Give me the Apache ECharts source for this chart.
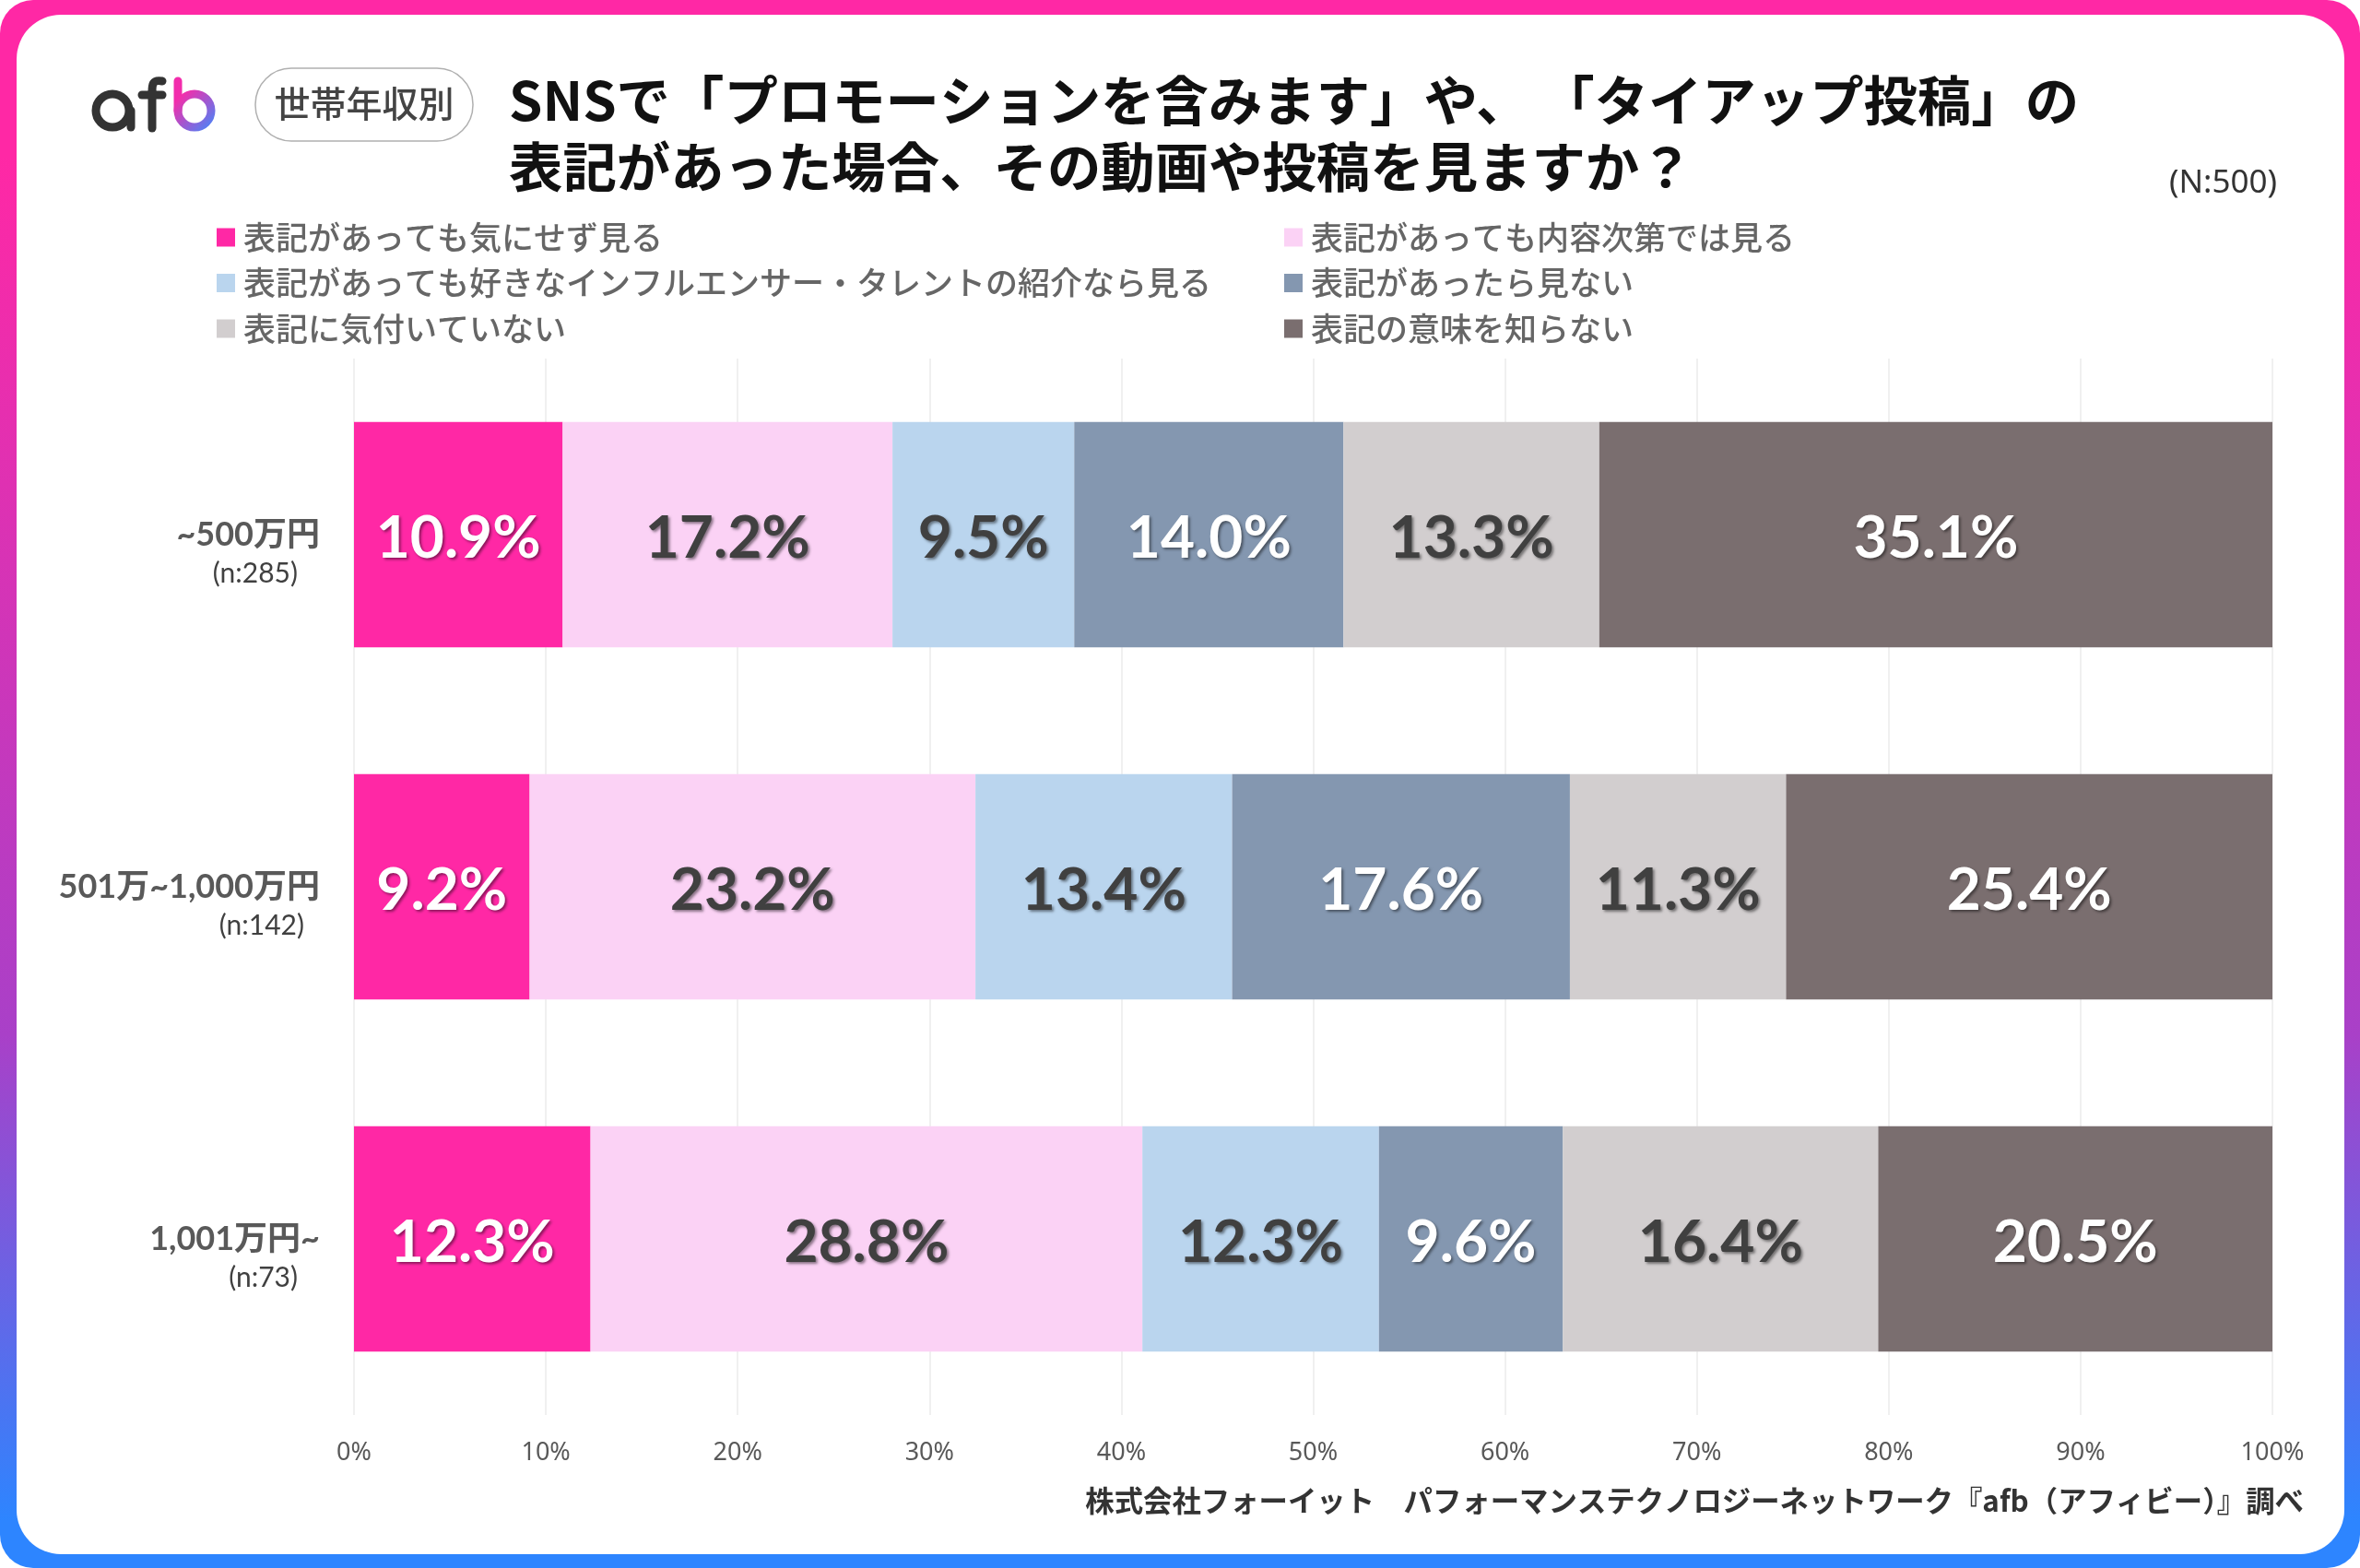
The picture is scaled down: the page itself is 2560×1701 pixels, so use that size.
<!DOCTYPE html>
<html lang="ja">
<head>
<meta charset="UTF-8"/>
<title>世帯年収別</title>
<script src="https://cdn.jsdelivr.net/npm/echarts@6/dist/echarts.min.js"></script>
<style>
html,body{margin:0;padding:0;background:#fff}
#main{width:2560px;height:1701px}
</style>
</head>
<body>
<div id="main"></div>
<script>
var categories = ['~500万円', '501万~1,000万円', '1,001万円~'];
var sampleLabels = ['(n:285)', '(n:142)', '(n:73)'];
var tickLabels = ['0%', '10%', '20%', '30%', '40%', '50%', '60%', '70%', '80%', '90%', '100%'];
var names = [
    '表記があっても気にせず見る',
    '表記があっても内容次第では見る',
    '表記があっても好きなインフルエンサー・タレントの紹介なら見る',
    '表記があったら見ない',
    '表記に気付いていない',
    '表記の意味を知らない'
];
// shares in percent per category, labels show one decimal
var ignoreIt = [10.877, 9.155, 12.329];
var dependsOnContent = [17.193, 23.239, 28.767];
var favouriteOnly = [9.474, 13.380, 12.329];
var wontWatch = [14.035, 17.606, 9.589];
var notNoticed = [13.333, 11.268, 16.438];
var dontKnow = [35.088, 25.352, 20.548];
var seriesValues = [ignoreIt, dependsOnContent, favouriteOnly, wontWatch, notNoticed, dontKnow];
var colors = ['#FF28A5', '#FBD2F5', '#BAD5EE', '#8497B0', '#D2CECF', '#7A6E6F'];
var labelColors = ['#ffffff', '#404040', '#404040', '#ffffff', '#404040', '#ffffff'];
var jp = '"Noto Sans CJK JP"';
var latin = 'Lato, "Noto Sans CJK JP"';

var myChart = echarts.init(document.getElementById('main'), null, {renderer: 'canvas'});

var logoGradient = new echarts.graphic.LinearGradient(0, 0, 1, 1, [
    {offset: 0.1, color: '#FF28A5'},
    {offset: 1, color: '#3A8CFF'}
]);
var borderGradient = new echarts.graphic.LinearGradient(0, 0, 0, 1, [
    {offset: 0.1, color: '#FF28A5'},
    {offset: 0.66, color: '#A940C8'},
    {offset: 0.97, color: '#2D85FF'}
]);
var logoInk = {fill: 'none', stroke: '#333', lineWidth: 9, lineCap: 'round'};

var option = {
    animation: false,
    backgroundColor: '#fff',
    title: [
        {
            text: 'SNSで「プロモーションを含みます」や、\u2009「タイアップ投稿」の\n表記があった場合、その動画や投稿を見ますか？',
            left: 552, top: 73, padding: 0,
            textStyle: {fontFamily: jp, fontSize: 58.4, fontWeight: 'bold', color: '#111', lineHeight: 72}
        },
        {
            text: '(N:500)',
            right: 90, top: 179, padding: 0,
            textStyle: {fontFamily: 'Noto Sans', fontSize: 35, fontWeight: 'normal', color: '#333', lineHeight: 40}
        },
        {
            text: '株式会社フォーイット　パフォーマンステクノロジーネットワーク『afb（アフィビー）』調べ',
            right: 61, top: 1610, padding: 0,
            textStyle: {fontFamily: jp, fontSize: 31.4, fontWeight: 'bold', color: '#333', lineHeight: 36}
        }
    ],
    legend: [
        {
            data: [names[0], names[2], names[4]],
            left: 235, top: 240, padding: 0, orient: 'vertical', itemGap: 14.5,
            itemWidth: 20, itemHeight: 20, icon: 'rect', selectedMode: false,
            textStyle: {fontFamily: jp, fontSize: 35, fontWeight: 500, color: '#666', lineHeight: 35, padding: [0, 0, 0, 4]}
        },
        {
            data: [names[1], names[3], names[5]],
            left: 1393, top: 240, padding: 0, orient: 'vertical', itemGap: 14.5,
            itemWidth: 20, itemHeight: 20, icon: 'rect', selectedMode: false,
            textStyle: {fontFamily: jp, fontSize: 35, fontWeight: 500, color: '#666', lineHeight: 35, padding: [0, 0, 0, 4]}
        }
    ],
    grid: {left: 384, right: 95, top: 389, bottom: 166, containLabel: false},
    xAxis: {
        type: 'value', min: 0, max: 100, interval: 10,
        axisLine: {show: false}, axisTick: {show: false},
        splitLine: {lineStyle: {color: '#ebebeb', width: 1.5}},
        axisLabel: {
            margin: 28, fontFamily: 'Noto Sans', fontSize: 27, color: '#595959',
            formatter: function (v) { return tickLabels[v / 10]; }
        }
    },
    yAxis: {
        type: 'category', inverse: true, data: categories,
        axisLine: {show: false}, axisTick: {show: false}, splitLine: {show: false},
        axisLabel: {
            margin: 37, align: 'right',
            formatter: function (v, i) {
                return '{e| }\n{a|' + v + '}\n{n' + i + '|' + sampleLabels[i] + '}';
            },
            rich: {
                e: {fontSize: 30, lineHeight: 42},
                a: {fontFamily: latin, fontSize: 36, fontWeight: 'bold', color: '#595959', lineHeight: 42},
                n0: {fontFamily: latin, fontSize: 30, color: '#404040', lineHeight: 42, padding: [0, 24, 0, 0]},
                n1: {fontFamily: latin, fontSize: 30, color: '#404040', lineHeight: 42, padding: [0, 17, 0, 0]},
                n2: {fontFamily: latin, fontSize: 30, color: '#404040', lineHeight: 42, padding: [0, 24, 0, 0]}
            }
        }
    },
    series: seriesValues.map(function (values, i) {
        return {
            name: names[i], type: 'bar', stack: 'total', barWidth: '64%',
            data: values,
            itemStyle: {color: colors[i]},
            label: {
                show: true, position: 'inside', offset: [0, 4],
                fontFamily: 'Lato', fontSize: 64, fontWeight: 'bold', color: labelColors[i],
                textShadowColor: 'rgba(0,0,0,0.45)', textShadowBlur: 3, textShadowOffsetX: 2, textShadowOffsetY: 2,
                formatter: function (p) { return p.value.toFixed(1) + '%'; }
            }
        };
    }),
    graphic: [
        // gradient frame
        {type: 'rect', z: -10, shape: {x: 0, y: 0, width: 2560, height: 1701, r: 36}, style: {fill: borderGradient}},
        {type: 'rect', z: -9, shape: {x: 18, y: 16, width: 2525, height: 1670, r: 48}, style: {fill: '#fff'}},
        // logo
        {type: 'circle', shape: {cx: 122, cy: 120, r: 18}, style: {fill: 'none', stroke: '#333', lineWidth: 9}},
        {type: 'line', shape: {x1: 142, y1: 120, x2: 142, y2: 138}, style: logoInk},
        {type: 'bezierCurve', shape: {x1: 176, y1: 88, cpx1: 165, cpy1: 86, cpx2: 165, cpy2: 92, x2: 165, y2: 100}, style: logoInk},
        {type: 'line', shape: {x1: 165, y1: 100, x2: 165, y2: 139}, style: logoInk},
        {type: 'line', shape: {x1: 154, y1: 103, x2: 176, y2: 103}, style: logoInk},
        {type: 'line', shape: {x1: 193, y1: 88, x2: 193, y2: 120}, style: {stroke: '#F22CAC', lineWidth: 9, lineCap: 'round'}},
        {type: 'circle', shape: {cx: 211, cy: 120, r: 18}, style: {fill: 'none', stroke: logoGradient, lineWidth: 9}},
        // badge
        {type: 'rect', shape: {x: 277, y: 74, width: 236, height: 79, r: 39}, style: {fill: '#fff', stroke: '#b0b0b0', lineWidth: 1.5}},
        {type: 'text', x: 395, y: 112, style: {text: '世帯年収別', fontFamily: jp, fontSize: 39, fontWeight: 500, fill: '#444', align: 'center', verticalAlign: 'middle'}}
    ]
};
myChart.setOption(option);
</script>
</body>
</html>
